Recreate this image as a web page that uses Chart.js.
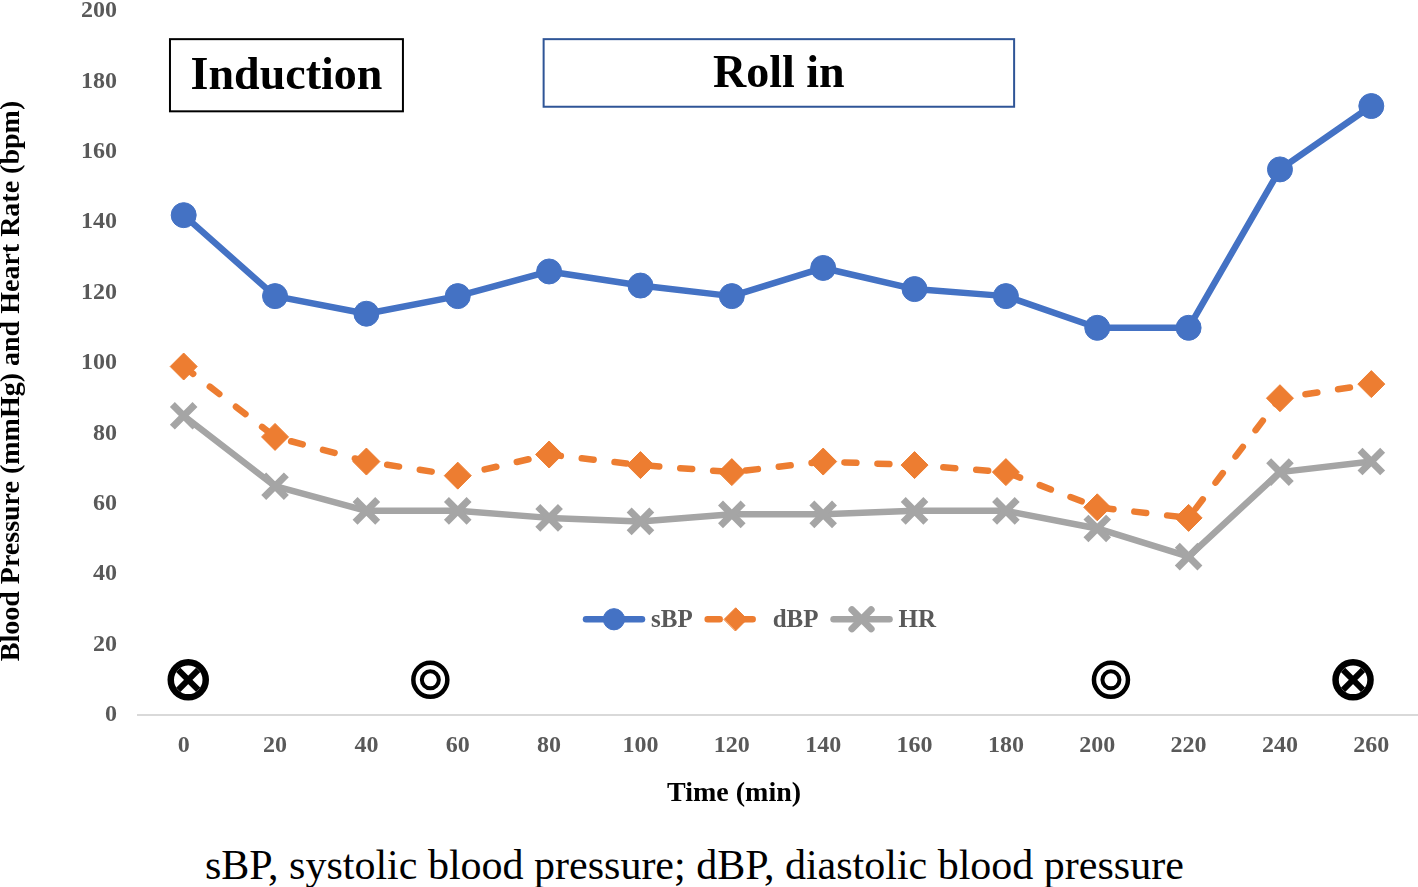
<!DOCTYPE html>
<html>
<head>
<meta charset="utf-8">
<script src="https://cdn.jsdelivr.net/npm/chart.js@4/dist/chart.umd.min.js"></script>
<style>
  html, body { margin: 0; padding: 0; background: #fff; overflow: hidden; }
  #wrap { position: relative; width: 1440px; height: 832px; margin-top: -12px; }
  #caption {
    font-family: 'Liberation Serif', 'Times New Roman', serif;
    font-size: 42px; line-height: 48px; color: #000;
    padding-left: 205px; margin-top: 21px; white-space: nowrap;
  }
</style>
</head>
<body>
<div id="wrap"><canvas id="bpChart"></canvas></div>
<div id="caption">sBP, systolic blood pressure; dBP, diastolic blood pressure</div>
<script>
'use strict';

// data kurva
const timeLabels = ['0','20','40','60','80','100','120','140','160','180','200','220','240','260'];
const sbp = [142, 119, 114, 119, 126, 122, 119, 127, 121, 119, 110, 110, 155, 173];
const dbp = [99, 79, 72, 68, 74, 71, 69, 72, 71, 69, 59, 56, 90, 94];
const hr  = [85, 65, 58, 58, 56, 55, 57, 57, 58, 58, 53, 45, 69, 72];

// simbol di bawah kurva (waktu dalam menit, nilai y)
const markTime  = [1, 54, 203, 256];
const markValue = [10, 10, 10, 10];
const markSym   = ['cross', 'ring', 'ring', 'cross'];

const SERIF = "'Liberation Serif', 'Times New Roman', serif";
const TICK_GREY = '#595959';

// posisi fraksional pada sumbu kategori
function timeToPx(x, t) {
  return x.getPixelForValue(t / 20);
}

// kotak "Induction" dan "Roll in", simbol, dan judul sumbu
const annotations = {
  id: 'annotations',
  afterDraw(chart) {
    const { ctx, chartArea, scales: { x, y } } = chart;
    const boxes = [
      { text: 'Induction', t0: -3,   t1: 48,    v0: 192, v1: 171.5, color: '#000000' },
      { text: 'Roll in',   t0: 78.8, t1: 181.8, v0: 192, v1: 172.8, color: '#2F5597' },
    ];
    ctx.save();
    boxes.forEach((b) => {
      const l = timeToPx(x, b.t0), r = timeToPx(x, b.t1);
      const t = y.getPixelForValue(b.v0), btm = y.getPixelForValue(b.v1);
      ctx.lineWidth = 2;
      ctx.strokeStyle = b.color;
      ctx.strokeRect(l, t, r - l, btm - t);
      ctx.fillStyle = '#000';
      ctx.font = `bold 46px ${SERIF}`;
      ctx.textAlign = 'center';
      ctx.textBaseline = 'middle';
      ctx.fillText(b.text, (l + r) / 2, (t + btm) / 2 + 2);
    });

    // simbol ⊗ dan ◎
    markTime.forEach((tm, i) => {
      const cx = timeToPx(x, tm);
      const cy = y.getPixelForValue(markValue[i]);
      ctx.strokeStyle = '#000';
      if (markSym[i] === 'cross') {
        ctx.lineWidth = 6.5;
        ctx.beginPath(); ctx.arc(cx, cy, 17.5, 0, Math.PI * 2); ctx.stroke();
        const d = 10;
        ctx.lineWidth = 6;
        ctx.beginPath();
        ctx.moveTo(cx - d, cy - d); ctx.lineTo(cx + d, cy + d);
        ctx.moveTo(cx + d, cy - d); ctx.lineTo(cx - d, cy + d);
        ctx.stroke();
      } else {
        ctx.lineWidth = 4.5;
        ctx.beginPath(); ctx.arc(cx, cy, 17, 0, Math.PI * 2); ctx.stroke();
        ctx.lineWidth = 4;
        ctx.beginPath(); ctx.arc(cx, cy, 8.5, 0, Math.PI * 2); ctx.stroke();
      }
    });

    ctx.fillStyle = '#000';
    ctx.font = `bold 28px ${SERIF}`;
    ctx.textAlign = 'center';
    ctx.textBaseline = 'middle';

    // judul sumbu X
    ctx.fillText('Time (min)', timeToPx(x, 120.5), chartArea.bottom + 79);

    // judul sumbu Y
    const midY = (chartArea.top + chartArea.bottom) / 2 + 18;
    ctx.translate(12, midY);
    ctx.rotate(-Math.PI / 2);
    ctx.fillText('Blood Pressure (mmHg) and Heart Rate (bpm)', 0, 0);
    ctx.restore();
  }
};

// legenda di dalam area grafik
const innerLegend = {
  id: 'innerLegend',
  afterDraw(chart) {
    const { ctx, scales: { y } } = chart;
    const cy = y.getPixelForValue(27.2);
    ctx.save();
    ctx.font = `bold 25px ${SERIF}`;
    ctx.textBaseline = 'middle';
    ctx.textAlign = 'left';
    const lineLen = 62, gap = 6, itemGap = 12;
    const widths = chart.data.datasets.map((ds) => lineLen + gap + ctx.measureText(ds.label).width);
    let xPos = 583;
    chart.data.datasets.forEach((ds, i) => {
      ctx.strokeStyle = ds.borderColor;
      ctx.lineWidth = ds.borderWidth;
      ctx.lineCap = 'round';
      ctx.setLineDash(ds.borderDash || []);
      ctx.beginPath();
      ctx.moveTo(xPos + 3, cy); ctx.lineTo(xPos + lineLen - 3, cy);
      ctx.stroke();
      ctx.setLineDash([]);
      ctx.fillStyle = ds.pointBackgroundColor;
      ctx.strokeStyle = ds.pointBorderColor;
      ctx.lineWidth = ds.pointBorderWidth;
      Chart.helpers.drawPoint(ctx, {
        pointStyle: ds.pointStyle,
        radius: ds.pointRadius * 0.85,
        borderWidth: ds.pointBorderWidth,
      }, xPos + lineLen / 2, cy);
      ctx.fillStyle = TICK_GREY;
      ctx.fillText(ds.label, xPos + lineLen + gap, cy + 1);
      xPos += widths[i] + itemGap;
    });
    ctx.restore();
  }
};

const commonLine = {
  borderWidth: 6.5,
  borderCapStyle: 'round',
  borderJoinStyle: 'round',
  tension: 0,
  fill: false,
};

new Chart(document.getElementById('bpChart').getContext('2d'), {
  type: 'line',
  data: {
    labels: timeLabels,
    datasets: [
      {
        ...commonLine,
        label: 'sBP',
        data: sbp,
        borderColor: '#4472C4',
        backgroundColor: '#4472C4',
        pointBackgroundColor: '#4472C4',
        pointBorderColor: '#4472C4',
        pointStyle: 'circle',
        pointRadius: 12.5,
        pointHoverRadius: 12.5,
        pointBorderWidth: 1,
      },
      {
        ...commonLine,
        label: 'dBP',
        data: dbp,
        borderColor: '#ED7D31',
        backgroundColor: '#ED7D31',
        pointBackgroundColor: '#ED7D31',
        pointBorderColor: '#ED7D31',
        borderDash: [12, 21],
        pointStyle: 'rectRot',
        pointRadius: 13.5,
        pointHoverRadius: 13.5,
        pointBorderWidth: 1,
      },
      {
        ...commonLine,
        label: 'HR',
        data: hr,
        borderColor: '#A5A5A5',
        backgroundColor: '#A5A5A5',
        pointBackgroundColor: '#A5A5A5',
        pointBorderColor: '#A5A5A5',
        pointStyle: 'crossRot',
        pointRadius: 16,
        pointHoverRadius: 16,
        pointBorderWidth: 7,
      },
    ],
  },
  options: {
    responsive: true,
    maintainAspectRatio: false,
    animation: false,
    layout: { padding: { top: 0, right: 0, left: 0, bottom: 0 } },
    plugins: {
      legend: { display: false },
      tooltip: { enabled: false },
    },
    scales: {
      x: {
        offset: true,
        grid: { display: false, drawTicks: false },
        border: { display: true, color: '#D9D9D9', width: 2 },
        ticks: {
          color: TICK_GREY,
          font: { family: SERIF, size: 24, weight: 'bold' },
          padding: 16,
          maxRotation: 0,
        },
        afterFit(scale) {
          scale.height = 105;
          scale.paddingLeft = 0;
          scale.paddingRight = 0;
        },
      },
      y: {
        min: 0,
        max: 200,
        grid: { display: false, drawTicks: false },
        border: { display: false },
        ticks: {
          stepSize: 20,
          color: TICK_GREY,
          font: { family: SERIF, size: 24, weight: 'bold' },
          padding: 21,
        },
        afterFit(scale) {
          scale.width = 138;
          scale.paddingTop = 9;
          scale.paddingBottom = 0;
        },
      },
    },
  },
  plugins: [annotations, innerLegend],
});
</script>
</body>
</html>
